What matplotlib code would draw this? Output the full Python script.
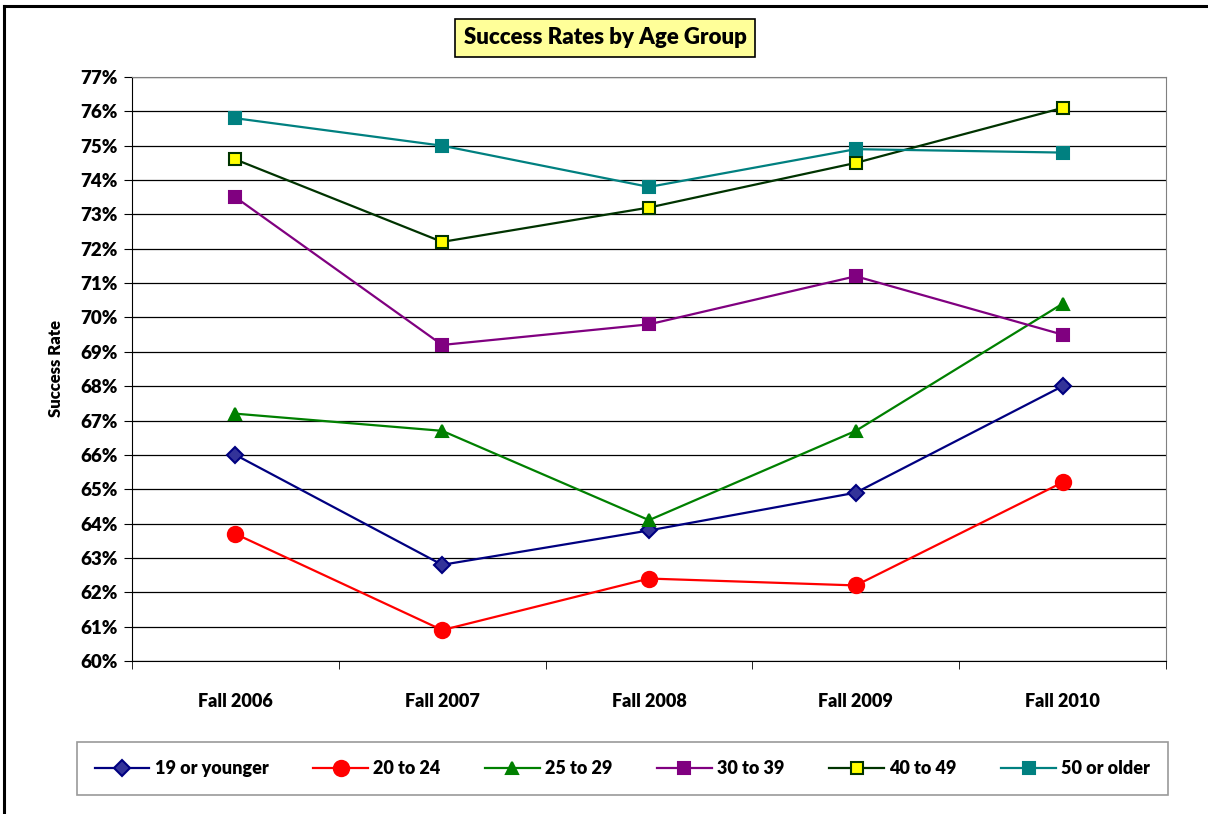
import matplotlib.pyplot as plt
from matplotlib.lines import Line2D
from matplotlib.ticker import FuncFormatter, FixedLocator

plt.rcParams['font.family'] = ['Lato', 'DejaVu Sans']
plt.rcParams['font.weight'] = 'heavy'

terms = ['Fall 2006', 'Fall 2007', 'Fall 2008', 'Fall 2009', 'Fall 2010']
age_groups = ['19 or younger', '20 to 24', '25 to 29', '30 to 39', '40 to 49', '50 or older']
rate_19 = [66.0, 62.8, 63.8, 64.9, 68.0]
rate_20_24 = [63.7, 60.9, 62.4, 62.2, 65.2]
rate_25_29 = [67.2, 66.7, 64.1, 66.7, 70.4]
rate_30_39 = [73.5, 69.2, 69.8, 71.2, 69.5]
rate_40_49 = [74.6, 72.2, 73.2, 74.5, 76.1]
rate_50 = [75.8, 75.0, 73.8, 74.9, 74.8]

series = [rate_19, rate_20_24, rate_25_29, rate_30_39, rate_40_49, rate_50]
# (line colour, marker, marker face, marker edge, marker size)
styles = [
    ('#000080', 'D', '#333399', '#000080', 8),
    ('#FF0000', 'o', '#FF0000', '#FF0000', 11),
    ('#008000', '^', '#008000', '#008000', 9),
    ('#800080', 's', '#800080', '#800080', 8.5),
    ('#003300', 's', '#FFFF00', '#003300', 8.5),
    ('#008080', 's', '#008080', '#008080', 8),
]
W = 'heavy'

fig = plt.figure(figsize=(12.08, 8.14), dpi=100)
ax = fig.add_axes([132 / 1208, 1 - 661 / 814, (1166 - 132) / 1208, (661 - 77) / 814])

x = range(1, len(terms) + 1)
handles = []
for vals, name, (lc, mk, fc, ec, ms) in zip(series, age_groups, styles):
    h, = ax.plot(x, vals, color=lc, lw=1.6, marker=mk, markerfacecolor=fc,
                 markeredgecolor=ec, markeredgewidth=1.5, markersize=ms, label=name,
                 zorder=3)
    handles.append(h)

ax.set_xlim(0.5, len(terms) + 0.5)
ax.set_ylim(60, 77)
ax.set_yticks(range(60, 78))
ax.yaxis.set_major_formatter(FuncFormatter(lambda v, p: '%d%%' % v))
ax.grid(axis='y', color='black', lw=0.9, zorder=1)

ax.set_xticks(list(x))
ax.set_xticklabels(terms, fontsize=13, fontweight=W)
ax.xaxis.set_minor_locator(FixedLocator([i + 0.5 for i in range(0, len(terms) + 1)]))
ax.tick_params(axis='x', which='major', length=0, pad=23)
ax.tick_params(axis='x', which='minor', length=6, direction='out', color='black')
ax.tick_params(axis='y', labelsize=13.5, length=6, pad=4)
for lab in ax.get_yticklabels():
    lab.set_fontweight(W)

ax.spines['right'].set_color('#808080')
ax.spines['top'].set_color('#808080')
ax.spines['left'].set_color('black')
ax.spines['bottom'].set_color('black')

ax.set_ylabel('Success Rate', fontsize=12, fontweight=W, labelpad=12)

# title box
fig.text(605 / 1208, 1 - 38 / 814, 'Success Rates by Age Group', ha='center', va='center',
         fontsize=16, fontweight=W,
         bbox=dict(boxstyle='square,pad=0.4', facecolor='#FFFF99', edgecolor='black', lw=1.2))

# outer chart border (left and top only visible)
fig.add_artist(Line2D([4 / 1208, 4 / 1208], [0, 1 - 6 / 814], color='black', lw=2.2,
                      transform=fig.transFigure))
fig.add_artist(Line2D([4 / 1208, 1], [1 - 6 / 814, 1 - 6 / 814], color='black', lw=2.2,
                      transform=fig.transFigure))

leg = fig.legend(handles=handles, loc='center', ncol=6, mode='expand',
                 bbox_to_anchor=(77 / 1208, 1 - 798 / 814, (1168 - 77) / 1208, 59 / 814),
                 fontsize=13, frameon=True, fancybox=False, handlelength=3.0,
                 handletextpad=0.3, borderaxespad=0, borderpad=1.0)
leg.get_frame().set_edgecolor('#808080')
leg.get_frame().set_linewidth(1.2)
for t in leg.get_texts():
    t.set_fontweight(W)

fig.savefig('out.png', dpi=100)
